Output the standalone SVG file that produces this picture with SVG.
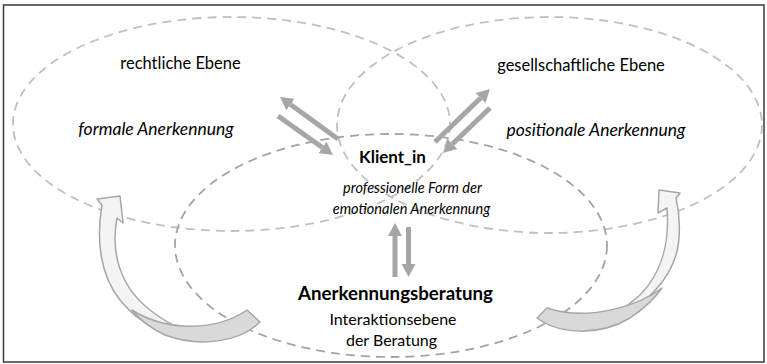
<svg xmlns="http://www.w3.org/2000/svg" width="767" height="364" viewBox="0 0 767 364">
  <style>
    .frame { fill: #ffffff; stroke: #3a3a3a; stroke-width: 1.5; }
    .outer { fill: none; stroke: #c0c0c0; stroke-width: 1.8; stroke-dasharray: 9 6; }
    .inner { fill: none; stroke: #a3a3a3; stroke-width: 1.8; stroke-dasharray: 9 6; }
    .arrow { stroke: #a6a6a6; stroke-width: 5; fill: none; marker-end: url(#head); }
    .light { fill: #f4f4f4; stroke: #a6a6a6; stroke-width: 1.5; stroke-linejoin: round; }
    .dark { fill: #d9d9d9; stroke: #a6a6a6; stroke-width: 1.5; stroke-linejoin: round; }
    text { font-family: Lato, "Liberation Sans", sans-serif; fill: #000000; text-anchor: middle; }
    .lbl { font-size: 16.5px; }
    .sub { font-size: 16px; }
    .it { font-size: 17.5px; font-style: italic; }
    .itc { font-size: 14.5px; font-style: italic; }
    .bold { font-size: 17px; font-weight: bold; }
    .big { font-size: 18.7px; font-weight: bold; }
  </style>
  <defs>
    <marker id="head" viewBox="0 0 13 14" refX="0" refY="7" markerWidth="13" markerHeight="14" markerUnits="userSpaceOnUse" orient="auto">
      <path d="M0,0 L13,7 L0,14 z" fill="#a6a6a6"/>
    </marker>
  </defs>

  <rect class="frame" x="3.5" y="5" width="760.5" height="357"/>

  <g id="ebene-rechtlich">
    <ellipse class="outer" cx="231.5" cy="124" rx="218.5" ry="107"/>
    <text class="lbl" x="180.5" y="69">rechtliche Ebene</text>
    <text class="it" x="156" y="135">formale Anerkennung</text>
  </g>

  <g id="ebene-gesellschaftlich">
    <ellipse class="outer" cx="549.5" cy="125" rx="212.5" ry="108"/>
    <text class="lbl" x="581" y="71">gesellschaftliche Ebene</text>
    <text class="it" x="596" y="136">positionale Anerkennung</text>
  </g>

  <g id="ebene-interaktion">
    <ellipse class="inner" cx="391" cy="245.5" rx="216" ry="111.5"/>
  </g>

  <g id="connectors">
    <!-- left curved arrow -->
    <path class="light" d="M97,199 L120,196 L123,223 L117,218 C111,250 118,285 150,310 C165,322 185,332 205,340 C170,340 140,325 120,300 C100,275 96,240 102,205 Z"/>
    <path class="dark" d="M247,310 L260,322 C240,342 200,348 165,335 C150,328 140,320 132,310 C160,328 210,335 247,310 Z"/>
    <!-- right curved arrow -->
    <path class="light" d="M680,193 L659,190 L658,213 L667,208 C670,245 660,275 640,295 C625,308 610,318 595,325 C630,318 665,290 676,255 C681,238 680,215 676,198 Z"/>
    <path class="dark" d="M547,308 L537,318 C560,335 600,336 630,318 C645,308 655,298 662,288 C640,305 590,322 547,308 Z"/>
    <!-- straight arrows -->
    <line class="arrow" x1="338" y1="139" x2="290.5" y2="104.6"/>
    <line class="arrow" x1="278" y1="116" x2="322.4" y2="147.5"/>
    <line class="arrow" x1="435" y1="142" x2="480.6" y2="98"/>
    <line class="arrow" x1="490" y1="108" x2="452.4" y2="144"/>
    <line class="arrow" x1="395" y1="277" x2="395" y2="236"/>
    <line class="arrow" x1="408.5" y1="227" x2="408.5" y2="264"/>
  </g>

  <g id="klient">
    <text class="bold" x="392.5" y="163">Klient_in</text>
    <text class="itc" x="412.5" y="193">professionelle Form der</text>
    <text class="itc" x="411.5" y="214">emotionalen Anerkennung</text>
  </g>

  <g id="beratung">
    <text class="big" x="395.5" y="300">Anerkennungsberatung</text>
    <text class="sub" x="393" y="325">Interaktionsebene</text>
    <text class="sub" x="391.5" y="346">der Beratung</text>
  </g>
</svg>
